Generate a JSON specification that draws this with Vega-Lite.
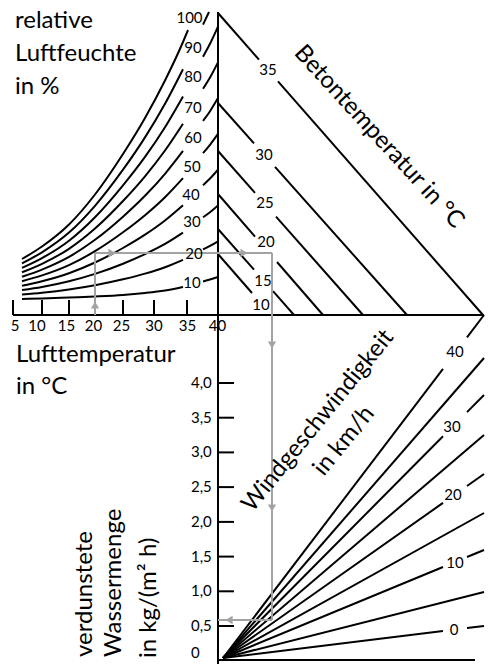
{
  "$schema": "https://vega.github.io/schema/vega-lite/v6.json",
  "width": 489,
  "height": 664,
  "autosize": {"type": "none"},
  "padding": 0,
  "background": "white",
  "config": {"view": {"stroke": null}, "text": {"font": "Lato", "color": "black"}},
  "datasets": {
    "segs": [
      {"k": "axis", "x": 218, "y": 12, "x2": 218, "y2": 664},
      {"k": "axis", "x": 13, "y": 315, "x2": 484, "y2": 315},
      {"k": "axis", "x": 218, "y": 660, "x2": 475, "y2": 660},
      {"k": "axis", "x": 13, "y": 300, "x2": 13, "y2": 315},
      {"k": "axis", "x": 42, "y": 300, "x2": 42, "y2": 315},
      {"k": "axis", "x": 69, "y": 300, "x2": 69, "y2": 315},
      {"k": "axis", "x": 95, "y": 300, "x2": 95, "y2": 315},
      {"k": "axis", "x": 123, "y": 300, "x2": 123, "y2": 315},
      {"k": "axis", "x": 154, "y": 300, "x2": 154, "y2": 315},
      {"k": "axis", "x": 187, "y": 300, "x2": 187, "y2": 315},
      {"k": "axis", "x": 218, "y": 383, "x2": 234, "y2": 383},
      {"k": "axis", "x": 218, "y": 417.7, "x2": 234, "y2": 417.7},
      {"k": "axis", "x": 218, "y": 452.4, "x2": 234, "y2": 452.4},
      {"k": "axis", "x": 218, "y": 487.1, "x2": 234, "y2": 487.1},
      {"k": "axis", "x": 218, "y": 521.9, "x2": 234, "y2": 521.9},
      {"k": "axis", "x": 218, "y": 556.6, "x2": 234, "y2": 556.6},
      {"k": "axis", "x": 218, "y": 591.3, "x2": 234, "y2": 591.3},
      {"k": "axis", "x": 218, "y": 626, "x2": 234, "y2": 626},
      {"k": "beton", "x": 218, "y": 13, "x2": 259, "y2": 59.7},
      {"k": "beton", "x": 278, "y": 81.4, "x2": 483, "y2": 315},
      {"k": "beton", "x": 218, "y": 103, "x2": 254, "y2": 143.4},
      {"k": "beton", "x": 275, "y": 166.9, "x2": 407, "y2": 315},
      {"k": "beton", "x": 218, "y": 151, "x2": 255, "y2": 192.8},
      {"k": "beton", "x": 276, "y": 216.6, "x2": 363, "y2": 315},
      {"k": "beton", "x": 218, "y": 194, "x2": 255, "y2": 236.6},
      {"k": "beton", "x": 277, "y": 262, "x2": 323, "y2": 315},
      {"k": "beton", "x": 218, "y": 229, "x2": 254, "y2": 269.7},
      {"k": "beton", "x": 273, "y": 291.2, "x2": 294, "y2": 315},
      {"k": "beton", "x": 218, "y": 254, "x2": 252, "y2": 293},
      {"k": "wind", "x": 223, "y": 658, "x2": 443, "y2": 368.9},
      {"k": "wind", "x": 467, "y": 337.3, "x2": 484, "y2": 315},
      {"k": "wind", "x": 223, "y": 658, "x2": 484, "y2": 358},
      {"k": "wind", "x": 223, "y": 658, "x2": 443, "y2": 436.3},
      {"k": "wind", "x": 467, "y": 412.1, "x2": 484, "y2": 395},
      {"k": "wind", "x": 223, "y": 658, "x2": 484, "y2": 435},
      {"k": "wind", "x": 223, "y": 658, "x2": 443, "y2": 502.9},
      {"k": "wind", "x": 467, "y": 486, "x2": 484, "y2": 474},
      {"k": "wind", "x": 223, "y": 658, "x2": 484, "y2": 513},
      {"k": "wind", "x": 223, "y": 658, "x2": 443, "y2": 567},
      {"k": "wind", "x": 467, "y": 557, "x2": 484, "y2": 550},
      {"k": "wind", "x": 223, "y": 658, "x2": 484, "y2": 592},
      {"k": "wind", "x": 223, "y": 658, "x2": 443, "y2": 631},
      {"k": "wind", "x": 467, "y": 628.1, "x2": 484, "y2": 626},
      {"k": "beispiel", "x": 95, "y": 315, "x2": 95, "y2": 253},
      {"k": "beispiel", "x": 95, "y": 253, "x2": 272, "y2": 253},
      {"k": "beispiel", "x": 272, "y": 253, "x2": 272, "y2": 620},
      {"k": "beispiel", "x": 272, "y": 620, "x2": 218, "y2": 620}
    ],
    "arrows": [
      {"dir": "up", "x": 95, "y": 305},
      {"dir": "right", "x": 112, "y": 253},
      {"dir": "right", "x": 244, "y": 253},
      {"dir": "down", "x": 272, "y": 345},
      {"dir": "down", "x": 272, "y": 508},
      {"dir": "left", "x": 229, "y": 620}
    ],
    "rh": [
      {"id": "r10a", "x": 22, "y": 299}, {"id": "r10a", "x": 42, "y": 298.5}, {"id": "r10a", "x": 69, "y": 297.5}, {"id": "r10a", "x": 95, "y": 296.5}, {"id": "r10a", "x": 123, "y": 295}, {"id": "r10a", "x": 145, "y": 293}, {"id": "r10a", "x": 165, "y": 290.5}, {"id": "r10a", "x": 183, "y": 287},
      {"id": "r10b", "x": 203, "y": 281.5}, {"id": "r10b", "x": 210, "y": 279.5}, {"id": "r10b", "x": 218, "y": 277},
      {"id": "r20a", "x": 22, "y": 294.6}, {"id": "r20a", "x": 42, "y": 292.7}, {"id": "r20a", "x": 69, "y": 289.4}, {"id": "r20a", "x": 95, "y": 285.2}, {"id": "r20a", "x": 123, "y": 279.3}, {"id": "r20a", "x": 145, "y": 273.6}, {"id": "r20a", "x": 165, "y": 267.2}, {"id": "r20a", "x": 183, "y": 259.8},
      {"id": "r20b", "x": 203, "y": 249.4}, {"id": "r20b", "x": 210, "y": 245.9}, {"id": "r20b", "x": 218, "y": 241.3},
      {"id": "r30a", "x": 22, "y": 290.1}, {"id": "r30a", "x": 42, "y": 287.0}, {"id": "r30a", "x": 69, "y": 281.3}, {"id": "r30a", "x": 95, "y": 273.9}, {"id": "r30a", "x": 123, "y": 263.7}, {"id": "r30a", "x": 145, "y": 254.1}, {"id": "r30a", "x": 165, "y": 243.9}, {"id": "r30a", "x": 183, "y": 232.6},
      {"id": "r30b", "x": 203, "y": 217.3}, {"id": "r30b", "x": 210, "y": 212.2}, {"id": "r30b", "x": 218, "y": 205.5},
      {"id": "r40a", "x": 22, "y": 285.7}, {"id": "r40a", "x": 42, "y": 281.2}, {"id": "r40a", "x": 69, "y": 273.2}, {"id": "r40a", "x": 95, "y": 262.5}, {"id": "r40a", "x": 123, "y": 248}, {"id": "r40a", "x": 145, "y": 234.7}, {"id": "r40a", "x": 165, "y": 220.5}, {"id": "r40a", "x": 183, "y": 205.3},
      {"id": "r40b", "x": 203, "y": 185.2}, {"id": "r40b", "x": 210, "y": 178.5}, {"id": "r40b", "x": 218, "y": 169.7},
      {"id": "r50a", "x": 22, "y": 281.2}, {"id": "r50a", "x": 42, "y": 275.4}, {"id": "r50a", "x": 69, "y": 265.1}, {"id": "r50a", "x": 95, "y": 251.2}, {"id": "r50a", "x": 123, "y": 232.3}, {"id": "r50a", "x": 145, "y": 215.2}, {"id": "r50a", "x": 165, "y": 197.2}, {"id": "r50a", "x": 183, "y": 178.1},
      {"id": "r50b", "x": 203, "y": 153.1}, {"id": "r50b", "x": 210, "y": 144.8}, {"id": "r50b", "x": 218, "y": 133.9},
      {"id": "r60a", "x": 22, "y": 276.8}, {"id": "r60a", "x": 42, "y": 269.6}, {"id": "r60a", "x": 69, "y": 256.9}, {"id": "r60a", "x": 95, "y": 239.8}, {"id": "r60a", "x": 123, "y": 216.7}, {"id": "r60a", "x": 145, "y": 195.8}, {"id": "r60a", "x": 165, "y": 173.8}, {"id": "r60a", "x": 183, "y": 150.9},
      {"id": "r60b", "x": 203, "y": 120.9}, {"id": "r60b", "x": 210, "y": 111.2}, {"id": "r60b", "x": 218, "y": 98.1},
      {"id": "r70a", "x": 22, "y": 272.3}, {"id": "r70a", "x": 42, "y": 263.8}, {"id": "r70a", "x": 69, "y": 248.8}, {"id": "r70a", "x": 95, "y": 228.5}, {"id": "r70a", "x": 123, "y": 201}, {"id": "r70a", "x": 145, "y": 176.3}, {"id": "r70a", "x": 165, "y": 150.5}, {"id": "r70a", "x": 183, "y": 123.7},
      {"id": "r70b", "x": 203, "y": 88.8}, {"id": "r70b", "x": 210, "y": 77.5}, {"id": "r70b", "x": 218, "y": 62.3},
      {"id": "r80a", "x": 22, "y": 267.9}, {"id": "r80a", "x": 42, "y": 258.1}, {"id": "r80a", "x": 69, "y": 240.7}, {"id": "r80a", "x": 95, "y": 217.2}, {"id": "r80a", "x": 123, "y": 185.3}, {"id": "r80a", "x": 145, "y": 156.9}, {"id": "r80a", "x": 165, "y": 127.2}, {"id": "r80a", "x": 183, "y": 96.4},
      {"id": "r80b", "x": 203, "y": 56.7}, {"id": "r80b", "x": 210, "y": 43.8}, {"id": "r80b", "x": 218, "y": 26.6},
      {"id": "r90a", "x": 22, "y": 263.4}, {"id": "r90a", "x": 42, "y": 252.3}, {"id": "r90a", "x": 69, "y": 232.6}, {"id": "r90a", "x": 95, "y": 205.8}, {"id": "r90a", "x": 123, "y": 169.7}, {"id": "r90a", "x": 145, "y": 137.4}, {"id": "r90a", "x": 165, "y": 103.8}, {"id": "r90a", "x": 183, "y": 69.2},
      {"id": "r90b", "x": 203, "y": 24.6}, {"id": "r90b", "x": 209, "y": 12},
      {"id": "r100a", "x": 22, "y": 259}, {"id": "r100a", "x": 42, "y": 246.5}, {"id": "r100a", "x": 69, "y": 224.5}, {"id": "r100a", "x": 95, "y": 194.5}, {"id": "r100a", "x": 123, "y": 154}, {"id": "r100a", "x": 145, "y": 118}, {"id": "r100a", "x": 165, "y": 80.5}, {"id": "r100a", "x": 183, "y": 42}, {"id": "r100a", "x": 188, "y": 30}
    ],
    "labels": [
      {"g": "tick", "t": "5", "x": 15, "y": 326},
      {"g": "tick", "t": "10", "x": 37, "y": 326},
      {"g": "tick", "t": "15", "x": 66.5, "y": 326},
      {"g": "tick", "t": "20", "x": 93.5, "y": 326},
      {"g": "tick", "t": "25", "x": 121.5, "y": 326},
      {"g": "tick", "t": "30", "x": 154, "y": 326},
      {"g": "tick", "t": "35", "x": 187.5, "y": 326},
      {"g": "tick", "t": "40", "x": 217.5, "y": 326},
      {"g": "tick", "t": "100", "x": 189.5, "y": 18},
      {"g": "tick", "t": "90", "x": 193, "y": 48},
      {"g": "tick", "t": "80", "x": 193, "y": 77},
      {"g": "tick", "t": "70", "x": 193, "y": 108},
      {"g": "tick", "t": "60", "x": 193, "y": 138},
      {"g": "tick", "t": "50", "x": 192, "y": 167},
      {"g": "tick", "t": "40", "x": 191, "y": 195},
      {"g": "tick", "t": "30", "x": 192, "y": 222},
      {"g": "tick", "t": "20", "x": 194, "y": 254},
      {"g": "tick", "t": "10", "x": 192, "y": 283},
      {"g": "tick", "t": "35", "x": 268, "y": 70},
      {"g": "tick", "t": "30", "x": 264, "y": 155},
      {"g": "tick", "t": "25", "x": 265, "y": 203},
      {"g": "tick", "t": "20", "x": 266, "y": 242},
      {"g": "tick", "t": "15", "x": 263, "y": 281},
      {"g": "tick", "t": "10", "x": 261, "y": 305},
      {"g": "tick", "t": "40", "x": 455, "y": 352},
      {"g": "tick", "t": "30", "x": 452, "y": 427},
      {"g": "tick", "t": "20", "x": 453, "y": 495},
      {"g": "tick", "t": "10", "x": 455, "y": 563},
      {"g": "tick", "t": "0", "x": 454, "y": 630},
      {"g": "evap", "t": "4,0", "x": 191, "y": 383},
      {"g": "evap", "t": "3,5", "x": 191, "y": 417.7},
      {"g": "evap", "t": "3,0", "x": 191, "y": 452.4},
      {"g": "evap", "t": "2,5", "x": 191, "y": 487.1},
      {"g": "evap", "t": "2,0", "x": 191, "y": 521.9},
      {"g": "evap", "t": "1,5", "x": 191, "y": 556.6},
      {"g": "evap", "t": "1,0", "x": 191, "y": 591.3},
      {"g": "evap", "t": "0,5", "x": 191, "y": 626},
      {"g": "evap", "t": "0", "x": 191, "y": 653},
      {"g": "big", "t": "relative", "x": 15, "y": 28},
      {"g": "big", "t": "Luftfeuchte", "x": 15, "y": 61},
      {"g": "big", "t": "in %", "x": 15, "y": 94},
      {"g": "big", "t": "Lufttemperatur", "x": 16, "y": 362},
      {"g": "big", "t": "in °C", "x": 16, "y": 394},
      {"g": "vert", "t": "verdunstete", "x": 92, "y": 657},
      {"g": "vert", "t": "Wassermenge", "x": 121, "y": 657},
      {"g": "vert", "t": "in kg/(m² h)", "x": 156, "y": 658},
      {"g": "beton", "t": "Betontemperatur in °C", "x": 379, "y": 137},
      {"g": "wind", "t": "Windgeschwindigkeit", "x": 318, "y": 421},
      {"g": "wind", "t": "in km/h", "x": 344, "y": 441}
    ]
  },
  "encoding": {
    "x": {"field": "x", "type": "quantitative", "scale": {"domain": [0, 489], "nice": false, "zero": false}, "axis": null},
    "y": {"field": "y", "type": "quantitative", "scale": {"domain": [0, 664], "reverse": true, "nice": false, "zero": false}, "axis": null}
  },
  "layer": [
    {
      "data": {"name": "segs"},
      "transform": [{"filter": "datum.k !== 'beispiel'"}],
      "mark": {"type": "rule", "color": "black", "strokeWidth": 2},
      "encoding": {"x2": {"field": "x2"}, "y2": {"field": "y2"}}
    },
    {
      "data": {"name": "rh"},
      "mark": {"type": "line", "color": "black", "strokeWidth": 2, "interpolate": "monotone"},
      "encoding": {"detail": {"field": "id"}}
    },
    {
      "data": {"name": "segs"},
      "transform": [{"filter": "datum.k === 'beispiel'"}],
      "mark": {"type": "rule", "color": "#a3a3a3", "strokeWidth": 2},
      "encoding": {"x2": {"field": "x2"}, "y2": {"field": "y2"}}
    },
    {
      "data": {"name": "arrows"},
      "mark": {"type": "point", "filled": true, "color": "#a3a3a3", "opacity": 1, "size": 70},
      "encoding": {
        "shape": {"field": "dir", "type": "nominal", "scale": {"domain": ["up", "down", "left", "right"], "range": ["triangle-up", "triangle-down", "triangle-left", "triangle-right"]}, "legend": null}
      }
    },
    {
      "data": {"name": "labels"},
      "transform": [{"filter": "datum.g === 'tick'"}],
      "mark": {"type": "text", "fontSize": 15, "align": "center", "baseline": "middle"},
      "encoding": {"text": {"field": "t"}}
    },
    {
      "data": {"name": "labels"},
      "transform": [{"filter": "datum.g === 'evap'"}],
      "mark": {"type": "text", "fontSize": 15, "align": "left", "baseline": "middle"},
      "encoding": {"text": {"field": "t"}}
    },
    {
      "data": {"name": "labels"},
      "transform": [{"filter": "datum.g === 'big'"}],
      "mark": {"type": "text", "fontSize": 24, "align": "left", "baseline": "alphabetic"},
      "encoding": {"text": {"field": "t"}}
    },
    {
      "data": {"name": "labels"},
      "transform": [{"filter": "datum.g === 'vert'"}],
      "mark": {"type": "text", "fontSize": 24, "align": "left", "baseline": "alphabetic", "angle": 270},
      "encoding": {"text": {"field": "t"}}
    },
    {
      "data": {"name": "labels"},
      "transform": [{"filter": "datum.g === 'beton'"}],
      "mark": {"type": "text", "fontSize": 24, "align": "center", "baseline": "middle", "angle": 47.5},
      "encoding": {"text": {"field": "t"}}
    },
    {
      "data": {"name": "labels"},
      "transform": [{"filter": "datum.g === 'wind'"}],
      "mark": {"type": "text", "fontSize": 24, "align": "center", "baseline": "middle", "angle": -51},
      "encoding": {"text": {"field": "t"}}
    }
  ]
}
